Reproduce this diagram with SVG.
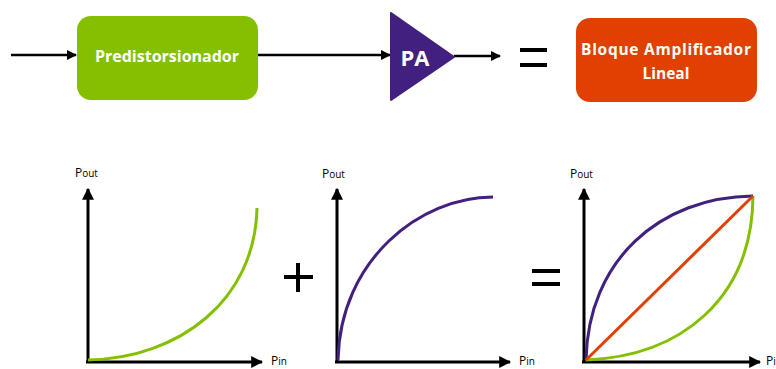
<svg xmlns="http://www.w3.org/2000/svg" width="776" height="369" viewBox="0 0 776 369">
<defs>
<style>
.ax{stroke:#000;stroke-width:3;fill:none}
.ln{stroke:#000;stroke-width:2.5;fill:none}
.eq{fill:#000}
.lbl{font-family:"Open Sans","Liberation Sans",sans-serif;font-size:12px;fill:#000}
.sub{font-size:10px}
.wt{font-family:"Open Sans","Liberation Sans",sans-serif;font-weight:bold;fill:#fff;text-anchor:middle}
.gr{stroke:#84C000;stroke-width:3;fill:none}
.pu{stroke:#41207F;stroke-width:3;fill:none}
.or{stroke:#E04000;stroke-width:3;fill:none}
</style>
<marker id="ah" viewBox="0 0 10 10" refX="9" refY="5" markerWidth="4.2" markerHeight="4.2" orient="auto" markerUnits="strokeWidth">
<path d="M0,0 L10,5 L0,10 z" fill="#000"/>
</marker>
<marker id="ah2" viewBox="0 0 10 10" refX="9" refY="5" markerWidth="4" markerHeight="4" orient="auto" markerUnits="strokeWidth">
<path d="M0,0 L10,5 L0,10 z" fill="#000"/>
</marker>
</defs>
<g id="connectors">
<line class="ln" x1="11" y1="55" x2="76" y2="55" marker-end="url(#ah)"/>
<line class="ln" x1="258" y1="55" x2="390" y2="55" marker-end="url(#ah)"/>
<line class="ln" x1="454" y1="56" x2="500" y2="56" marker-end="url(#ah)"/>
</g>
<g id="predistorsionador">
<rect x="77" y="16" width="181" height="84" rx="14" fill="#84C000"/>
<text class="wt" x="167" y="62" font-size="16">Predistorsionador</text>
</g>
<g id="pa">
<path d="M391,13 L454,57 L391,100 z" fill="#41207F" stroke="#41207F" stroke-width="2" stroke-linejoin="round"/>
<text class="wt" x="415" y="66" font-size="22">PA</text>
</g>
<g id="eq-top">
<rect class="eq" x="520" y="48" width="27" height="4"/>
<rect class="eq" x="520" y="63" width="27" height="4"/>
</g>
<g id="bloque">
<rect x="576" y="18" width="181" height="84" rx="14" fill="#E04000"/>
<text class="wt" x="666" y="55" font-size="15.5" textLength="170" lengthAdjust="spacing">Bloque  Amplificador</text>
<text class="wt" x="666" y="79" font-size="15.5">Lineal</text>
</g>
<g id="graph1">
<line class="ax" x1="88" y1="363" x2="88" y2="189" marker-end="url(#ah2)"/>
<line class="ax" x1="86" y1="362" x2="262" y2="362" marker-end="url(#ah2)"/>
<path class="gr" d="M88,360 C180,358 255,300 257,208"/>
<text class="lbl" x="75" y="177">P<tspan class="sub">out</tspan></text>
<text class="lbl" x="271" y="365">P<tspan class="sub">in</tspan></text>
</g>
<g id="plus">
<rect class="eq" x="284" y="275" width="29" height="4"/>
<rect class="eq" x="296" y="263" width="4" height="29"/>
</g>
<g id="graph2">
<line class="ax" x1="337" y1="363" x2="337" y2="189" marker-end="url(#ah2)"/>
<line class="ax" x1="335" y1="362" x2="510" y2="362" marker-end="url(#ah2)"/>
<path class="pu" d="M338,360 C340,260 420,197 493,197"/>
<text class="lbl" x="322" y="178">P<tspan class="sub">out</tspan></text>
<text class="lbl" x="519" y="365">P<tspan class="sub">in</tspan></text>
</g>
<g id="eq-bottom">
<rect class="eq" x="532" y="269" width="28" height="4"/>
<rect class="eq" x="532" y="282" width="28" height="4"/>
</g>
<g id="graph3">
<line class="ax" x1="584" y1="363" x2="584" y2="189" marker-end="url(#ah2)"/>
<line class="ax" x1="582" y1="362" x2="760" y2="362" marker-end="url(#ah2)"/>
<path class="pu" d="M586,360 C588,260 660,197 753,196"/>
<path class="gr" d="M586,360 C680,356 752,300 753,196"/>
<line class="or" x1="586" y1="360" x2="753" y2="196"/>
<text class="lbl" x="570" y="178">P<tspan class="sub">out</tspan></text>
<text class="lbl" x="766" y="365">P<tspan class="sub">in</tspan></text>
</g>
</svg>
